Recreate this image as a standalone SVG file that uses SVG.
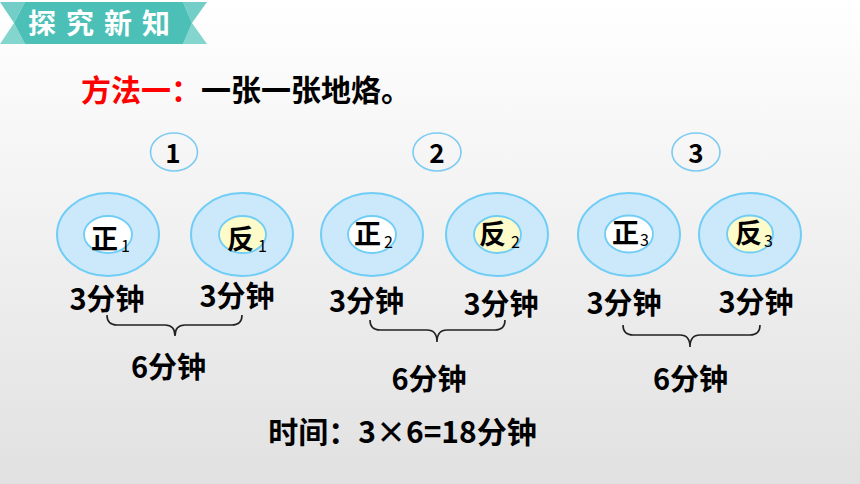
<svg xmlns="http://www.w3.org/2000/svg" width="860" height="484" viewBox="0 0 860 484">
<defs>
<linearGradient id="bg" x1="0" y1="0" x2="0" y2="1">
<stop offset="0" stop-color="#ffffff"/>
<stop offset="1" stop-color="#e1e1e1"/>
</linearGradient>
</defs>
<style>
text{font-family:"Noto Sans CJK SC","Noto Sans",sans-serif;fill:#000;}
.t{font-size:29px;font-weight:bold;text-anchor:middle;}
.num{font-size:26px;font-weight:bold;text-anchor:middle;}
.face{font-size:27px;font-weight:bold;}
.sub{font-size:16px;font-weight:normal;}
.lab{fill:none;stroke:#7ccbf2;stroke-width:1.6;}
.outer{fill:#cce8fb;stroke:#6fcdf6;stroke-width:2;}
.innerW{fill:#ffffff;stroke:#6fcdf6;stroke-width:1.8;}
.innerY{fill:#fcfbc9;stroke:#6fcdf6;stroke-width:1.8;}
.brace{fill:none;stroke:#222;stroke-width:1.6;}
</style>
<rect x="0" y="0" width="860" height="484" fill="url(#bg)"/>

<g id="header">
<polygon points="0,2 25,2 14,23" fill="#72cec6"/>
<polygon points="0,44 25,44 14,23" fill="#84d5ce"/>
<polygon points="183,2 207,2 192,23" fill="#72cec6"/>
<polygon points="183,44 207,44 192,23" fill="#84d5ce"/>
<polygon points="25,2 183,2 192,23 183,44 25,44 14,23" fill="#4cc0b7"/>
<text x="28" y="33.5" style="font-size:28px;font-weight:bold;fill:#ffffff;letter-spacing:10px;">探究新知</text>
</g>

<g id="method">
<text x="81" y="101" style="font-size:30px;font-weight:bold;"><tspan fill="#ff0000">方法一：</tspan><tspan>一张一张地烙。</tspan></text>
</g>

<g id="round1">
<ellipse class="lab" cx="174" cy="152" rx="23.5" ry="19"/>
<text class="num" x="173" y="163">1</text>
<g id="front1">
<ellipse class="outer" cx="108" cy="234.5" rx="51" ry="41.5"/>
<ellipse class="innerW" cx="108" cy="234.5" rx="24" ry="18.5"/>
<text class="face" x="91" y="249">正<tspan class="sub" x="121" y="252">1</tspan></text>
</g>
<g id="back1">
<ellipse class="outer" cx="242" cy="234.5" rx="51" ry="41.5"/>
<ellipse class="innerY" cx="242.5" cy="234.5" rx="23.5" ry="18.5"/>
<text class="face" x="227" y="249">反<tspan class="sub" x="258" y="252">1</tspan></text>
</g>
<text class="t" x="107" y="310">3分钟</text>
<text class="t" x="237" y="307">3分钟</text>
<text class="t" x="168.5" y="378">6分钟</text>
</g>

<g id="round2">
<ellipse class="lab" cx="437" cy="152" rx="24" ry="19"/>
<text class="num" x="437" y="163">2</text>
<g id="front2">
<ellipse class="outer" cx="372" cy="234.5" rx="51" ry="41.5"/>
<ellipse class="innerW" cx="372" cy="234.5" rx="24" ry="18.5"/>
<text class="face" x="354" y="244">正<tspan class="sub" x="384" y="248">2</tspan></text>
</g>
<g id="back2">
<ellipse class="outer" cx="497" cy="234.5" rx="51" ry="41.5"/>
<ellipse class="innerY" cx="497.5" cy="234.5" rx="23.5" ry="18.5"/>
<text class="face" x="479" y="244">反<tspan class="sub" x="511" y="248">2</tspan></text>
</g>
<text class="t" x="366.5" y="312">3分钟</text>
<text class="t" x="501" y="315">3分钟</text>
<text class="t" x="429" y="390">6分钟</text>
</g>

<g id="round3">
<ellipse class="lab" cx="696" cy="152" rx="24" ry="19"/>
<text class="num" x="696" y="163">3</text>
<g id="front3">
<ellipse class="outer" cx="629" cy="234.5" rx="51" ry="41.5"/>
<ellipse class="innerW" cx="629" cy="234" rx="24" ry="18.5"/>
<text class="face" x="612" y="243">正<tspan class="sub" x="640" y="246">3</tspan></text>
</g>
<g id="back3">
<ellipse class="outer" cx="750" cy="234.5" rx="51" ry="41.5"/>
<ellipse class="innerY" cx="750" cy="234" rx="23" ry="18.5"/>
<text class="face" x="735" y="243">反<tspan class="sub" x="764" y="247">3</tspan></text>
</g>
<text class="t" x="624" y="314">3分钟</text>
<text class="t" x="756" y="313">3分钟</text>
<text class="t" x="690.5" y="390">6分钟</text>
</g>

<g id="connectors">
<path class="brace" d="M107,315 Q107,325 117,325 L165,325 Q175,325 175,336 Q175,325 185,325 L232,325 Q242,325 242,315"/>
<path class="brace" d="M370,320 Q370,330 380,330 L427,330 Q437,330 437,342 Q437,330 447,330 L495,330 Q505,330 505,320"/>
<path class="brace" d="M623,325 Q623,335 633,335 L680,335 Q690,335 690,347 Q690,335 700,335 L750,335 Q760,335 760,325"/>
</g>

<g id="total">
<text class="t" x="402.5" y="443" style="font-size:30px;">时间：3×6=18分钟</text>
</g>
</svg>
